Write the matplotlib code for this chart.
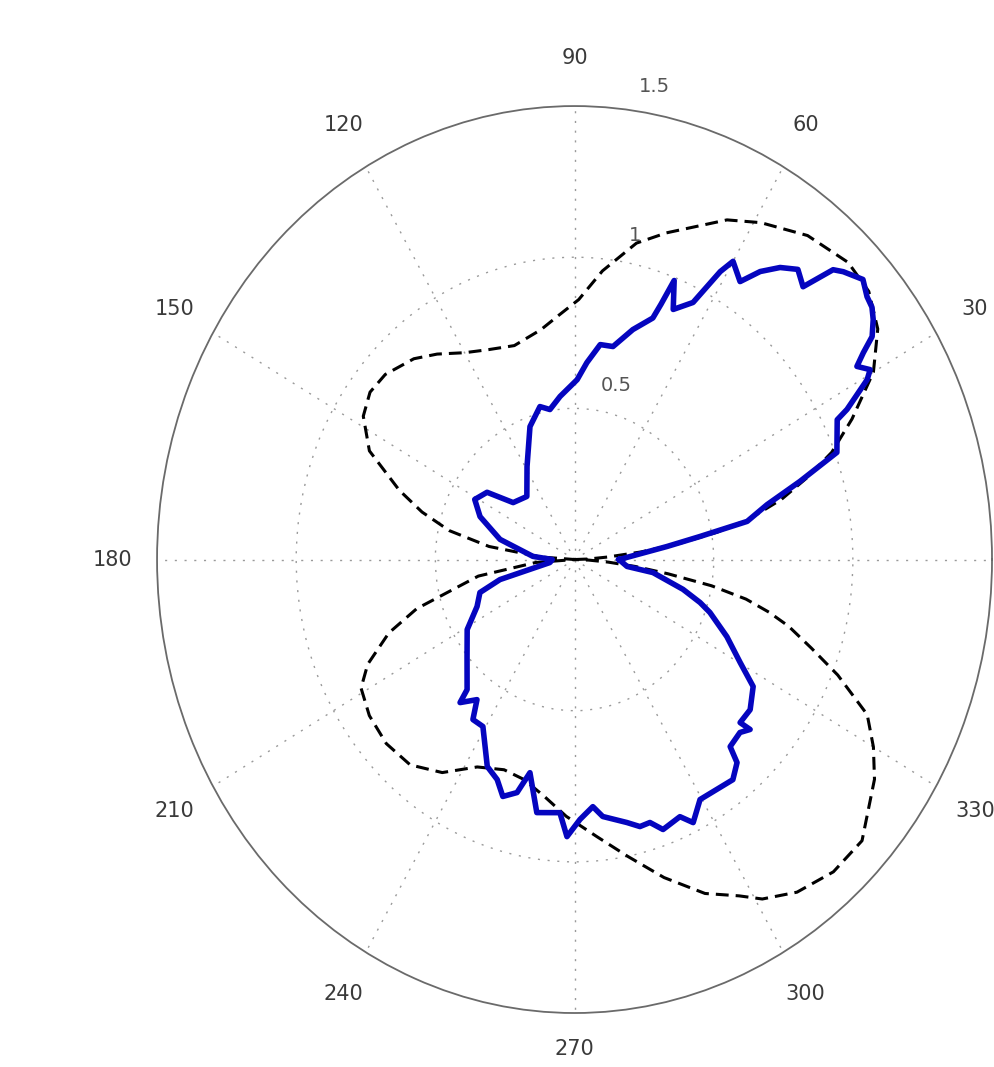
import numpy as np
import matplotlib
matplotlib.use("Agg")
import matplotlib.pyplot as plt

# --------- data (angles in degrees, radius in plot units) ---------
model_theta = [0, 2, 4, 6, 8, 10, 12, 15, 18, 21, 25, 30, 35, 40, 45, 52, 59, 64, 68,
               73, 78, 84, 89, 94, 99, 107, 114, 120, 126, 131, 138, 143, 148, 154,
               160, 164, 168, 172, 176, 180,
               184, 189, 196, 200, 205, 209, 215, 222, 229, 236, 243, 250, 256, 262,
               268, 275, 281, 287, 293, 298, 301, 306, 312, 318, 326, 330, 334, 338,
               341, 344, 346, 348, 350, 352, 354, 356, 358, 360]
model_r = [0.0, 0.05, 0.12, 0.24, 0.38, 0.52, 0.64, 0.77, 0.88, 0.99, 1.10, 1.24, 1.33,
           1.38, 1.39, 1.36, 1.30, 1.25, 1.19, 1.13, 1.07, 0.96, 0.86, 0.81, 0.77, 0.74,
           0.76, 0.79, 0.84, 0.88, 0.915, 0.92, 0.895, 0.82, 0.67, 0.57, 0.46, 0.31,
           0.12, 0.0,
           0.14, 0.35, 0.59, 0.71, 0.82, 0.877, 0.90, 0.91, 0.90, 0.85, 0.77, 0.74, 0.75,
           0.79, 0.85, 0.92, 1.00, 1.10, 1.20, 1.26, 1.31, 1.36, 1.39, 1.39, 1.30, 1.24,
           1.17, 1.02, 0.90, 0.80, 0.72, 0.63, 0.50, 0.34, 0.22, 0.12, 0.05, 0.0]

meas_theta = [0, 7.4, 9.6, 11.5, 14.7, 17.7, 20.6, 26.1, 26.9, 29.5, 30.6, 32.2, 33.4,
              34.6, 36.5, 38.0, 39.6, 41.8, 44.6, 45.9, 47.7, 50.1, 52.6, 55.0, 57.1,
              60.0, 61.2, 63.4, 66.8, 68.8, 69.8, 70.6, 74.6, 78.9, 82.6, 86.1, 89.1,
              95.5, 100.1, 103.8, 110.0, 119.0, 129.4, 139.5, 144.7, 151.0, 157.3,
              166.0, 176.0, 180.0,
              186.4, 193.9, 197.8, 203.9, 211.0, 219.7, 228.1, 229.0, 232.9, 235.4,
              239.2, 245.4, 249.1, 251.8, 255.0, 257.2, 260.8, 266.4, 268.3, 271.3,
              274.6, 276.8, 282.2, 284.9, 287.3, 289.6, 294.0, 296.1, 299.6, 308.0,
              311.0, 312.1, 316.1, 318.3, 317.8, 321.8, 326.8, 330.2, 335.0, 340.2,
              342.5, 345.8, 351.3, 353.1, 360.0]
meas_r = [0.16, 0.335, 0.457, 0.633, 0.715, 0.850, 1.007, 1.051, 1.098, 1.208, 1.234,
          1.199, 1.243, 1.299, 1.335, 1.356, 1.364, 1.390, 1.356, 1.335, 1.220, 1.251,
          1.216, 1.163, 1.095, 1.139, 1.087, 0.951, 0.900, 0.990, 0.900, 0.847, 0.789,
          0.718, 0.717, 0.653, 0.595, 0.542, 0.504, 0.521, 0.468, 0.352, 0.270, 0.290,
          0.385, 0.410, 0.368, 0.276, 0.150, 0.080,
          0.089, 0.276, 0.357, 0.383, 0.450, 0.502, 0.578, 0.627, 0.581, 0.643, 0.643,
          0.753, 0.779, 0.825, 0.798, 0.723, 0.848, 0.839, 0.917, 0.860, 0.820, 0.856,
          0.890, 0.914, 0.911, 0.948, 0.931, 0.969, 0.913, 0.924, 0.890, 0.834, 0.825,
          0.845, 0.803, 0.803, 0.767, 0.686, 0.604, 0.517, 0.473, 0.402, 0.285, 0.190,
          0.160]

angle_ticks = [30, 60, 90, 120, 150, 180, 210, 240, 270, 300, 330]
ring_ticks = [0.5, 1.0, 1.5]
ring_labels = ["0.5", "1", "1.5"]
r_max = 1.5

# --------- figure ---------
fig = plt.figure(figsize=(9.94, 10.67), dpi=100)
ax = fig.add_axes([0.158, 0.0506, 0.840, 0.850], projection="polar")
ax.set_aspect("auto")

grid_style = dict(color="#9a9a9a", linewidth=1.0, linestyle=(0, (1.5, 5.5)))
ax.set_thetagrids(range(0, 360, 30), labels=[])
ax.set_rgrids(ring_ticks[:-1], labels=[])
ax.set_rlim(0, r_max)
ax.grid(True, **grid_style)
ax.spines["polar"].set_color("#6a6a6a")
ax.spines["polar"].set_linewidth(1.3)
ax.tick_params(length=0)

ax.plot(np.deg2rad(model_theta), model_r, color="black", linewidth=2.2,
        linestyle=(0, (4.2, 2.3)), zorder=3)
ax.plot(np.deg2rad(meas_theta), meas_r, color="#0505bf", linewidth=4.0,
        solid_joinstyle="round", zorder=4)

# angle labels; the bottom one sits a little closer so it stays on the page
for a in angle_ticks:
    rr = r_max * (1.08 if a == 270 else 1.107)
    ax.text(np.deg2rad(a), rr, str(a), ha="center", va="center",
            fontsize=15, color="#3a3a3a", clip_on=False)

for v, lab in zip(ring_ticks, ring_labels):
    x = v * np.cos(np.deg2rad(82)) + 0.08
    y = v * np.sin(np.deg2rad(82)) + 0.08
    ax.text(np.arctan2(y, x), np.hypot(x, y), lab, ha="center", va="center",
            fontsize=14, color="#555555", clip_on=False)

fig.savefig("out.png", dpi=100)
